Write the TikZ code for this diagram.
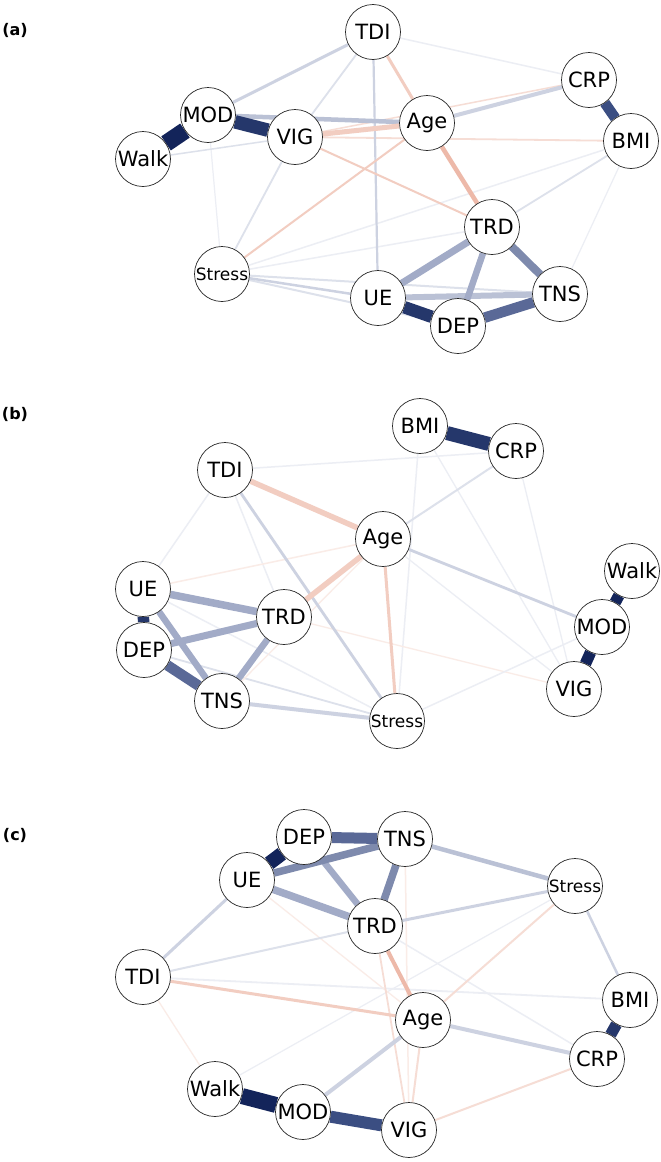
\documentclass[tikz,border=0pt]{standalone}
\usepackage{fontspec}
\setmainfont{DejaVu Sans}
\usetikzlibrary{backgrounds}
\definecolor{nvA}{HTML}{13245A}
\definecolor{nvB}{HTML}{25376B}
\definecolor{nvC}{HTML}{3B4E82}
\definecolor{nvD}{HTML}{5A6997}
\definecolor{nvE}{HTML}{7E8AAD}
\definecolor{nvF}{HTML}{A2ABC7}
\definecolor{nvG}{HTML}{BAC1D5}
\definecolor{nvH}{HTML}{CDD2E1}
\definecolor{nvI}{HTML}{DDE1EB}
\definecolor{nvJ}{HTML}{ECEEF4}
\definecolor{rdA}{HTML}{EDB9A9}
\definecolor{rdB}{HTML}{F2CDC1}
\definecolor{rdC}{HTML}{F6DDD5}
\definecolor{rdD}{HTML}{FAECE7}
\begin{document}
\begin{tikzpicture}[x=1pt,y=-1pt,
  nd/.style={circle,draw=black!85,line width=0.7pt,fill=white,minimum size=55pt,inner sep=0pt,font=\fontsize{21}{21}\selectfont},
  sm/.style={font=\fontsize{17}{17}\selectfont},
  panel/.style={font=\fontsize{16}{16}\selectfont\bfseries},
  edge/.style 2 args={draw=#1,line width=#2pt}]
\useasboundingbox (0,0) rectangle (661,1162);
% panel labels
\node[panel] (la) at (15,30) {(a)};
\node[panel] (lb) at (15,414) {(b)};
\node[panel] (lc) at (15,835) {(c)};
% ---------- panel (a) nodes
\node[nd] (aTDI) at (373,32) {TDI};
\node[nd] (aCRP) at (589,80) {CRP};
\node[nd] (aMOD) at (208,115) {MOD};
\node[nd] (aVIG) at (295,137) {VIG};
\node[nd] (aAge) at (427,123) {Age};
\node[nd] (aBMI) at (631,141) {BMI};
\node[nd] (aWalk) at (143,159) {Walk};
\node[nd] (aTRD) at (492,227) {TRD};
\node[nd,sm] (aStress) at (222,274) {Stress};
\node[nd] (aUE) at (378,298) {UE};
\node[nd] (aTNS) at (560,294) {TNS};
\node[nd] (aDEP) at (458,326) {DEP};
% ---------- panel (b) nodes
\node[nd] (bBMI) at (420,426) {BMI};
\node[nd] (bCRP) at (516,451) {CRP};
\node[nd] (bTDI) at (225,470) {TDI};
\node[nd] (bAge) at (383,539) {Age};
\node[nd] (bWalk) at (632,571) {Walk};
\node[nd] (bUE) at (143,589) {UE};
\node[nd] (bTRD) at (284,617) {TRD};
\node[nd] (bMOD) at (602,627) {MOD};
\node[nd] (bDEP) at (144,650) {DEP};
\node[nd] (bVIG) at (574,689) {VIG};
\node[nd] (bTNS) at (222,701) {TNS};
\node[nd,sm] (bStress) at (397,721) {Stress};
% ---------- panel (c) nodes
\node[nd] (cDEP) at (304,837) {DEP};
\node[nd] (cTNS) at (405,839) {TNS};
\node[nd] (cUE) at (247,880) {UE};
\node[nd,sm] (cStress) at (575,886) {Stress};
\node[nd] (cTRD) at (375,926) {TRD};
\node[nd] (cTDI) at (143,977) {TDI};
\node[nd] (cBMI) at (630,1000) {BMI};
\node[nd] (cAge) at (423,1020) {Age};
\node[nd] (cCRP) at (597,1059) {CRP};
\node[nd] (cWalk) at (215,1089) {Walk};
\node[nd] (cMOD) at (303,1112) {MOD};
\node[nd] (cVIG) at (409,1130) {VIG};
\begin{scope}[on background layer]
\fill[white] (0,0) rectangle (661,1162);
% ---------- panel (a) edges
\draw[edge={nvJ}{1.5}] (aTDI) -- (aCRP);
\draw[edge={nvJ}{1.2}] (aBMI) -- (aTNS);
\draw[edge={nvJ}{1.2}] (aMOD) -- (aStress);
\draw[edge={nvJ}{1.5}] (aBMI) -- (aStress);
\draw[edge={nvJ}{1.5}] (aTRD) -- (aStress);
\draw[edge={nvI}{2}] (aStress) -- (aTNS);
\draw[edge={rdC}{1.8}] (aVIG) -- (aBMI);
\draw[edge={rdC}{1.5}] (aVIG) -- (aCRP);
\draw[edge={nvI}{1.8}] (aTDI) -- (aVIG);
\draw[edge={nvI}{1.8}] (aVIG) -- (aStress);
\draw[edge={nvI}{1.5}] (aWalk) -- (aVIG);
\draw[edge={nvH}{2.2}] (aTDI) -- (aUE);
\draw[edge={nvI}{1.8}] (aBMI) -- (aTRD);
\draw[edge={rdB}{2}] (aVIG) -- (aTRD);
\draw[edge={rdB}{2}] (aAge) -- (aStress);
\draw[edge={nvI}{2}] (aStress) -- (aDEP);
\draw[edge={nvH}{2.5}] (aStress) -- (aUE);
\draw[edge={nvH}{3}] (aTDI) -- (aMOD);
\draw[edge={rdB}{3}] (aTDI) -- (aAge);
\draw[edge={nvH}{4}] (aAge) -- (aCRP);
\draw[edge={nvG}{4.5}] (aMOD) -- (aAge);
\draw[edge={rdB}{5}] (aVIG) -- (aAge);
\draw[edge={rdA}{4.5}] (aAge) -- (aTRD);
\draw[edge={nvG}{6}] (aUE) -- (aTNS);
\draw[edge={nvF}{6.5}] (aTRD) -- (aDEP);
\draw[edge={nvF}{7}] (aTRD) -- (aUE);
\draw[edge={nvE}{8}] (aTRD) -- (aTNS);
\draw[edge={nvC}{10.5}] (aCRP) -- (aBMI);
\draw[edge={nvD}{10.5}] (aDEP) -- (aTNS);
\draw[edge={nvB}{12.5}] (aUE) -- (aDEP);
\draw[edge={nvB}{13.5}] (aMOD) -- (aVIG);
\draw[edge={nvA}{17}] (aWalk) -- (aMOD);
% ---------- panel (b) edges
\draw[edge={nvJ}{1.5}] (bTDI) -- (bCRP);
\draw[edge={nvJ}{1.5}] (bBMI) -- (bStress);
\draw[edge={nvJ}{1.3}] (bBMI) -- (bVIG);
\draw[edge={nvJ}{1.3}] (bCRP) -- (bVIG);
\draw[edge={nvJ}{1.5}] (bTDI) -- (bUE);
\draw[edge={nvJ}{1.5}] (bTDI) -- (bTRD);
\draw[edge={rdD}{1.5}] (bAge) -- (bUE);
\draw[edge={nvJ}{1.5}] (bUE) -- (bStress);
\draw[edge={nvI}{1.8}] (bDEP) -- (bStress);
\draw[edge={rdD}{1.3}] (bTRD) -- (bVIG);
\draw[edge={nvJ}{1.3}] (bAge) -- (bVIG);
\draw[edge={nvJ}{1.5}] (bStress) -- (bMOD);
\draw[edge={rdD}{1.3}] (bAge) -- (bTNS);
\draw[edge={nvI}{2}] (bAge) -- (bCRP);
\draw[edge={nvH}{2.8}] (bAge) -- (bMOD);
\draw[edge={nvH}{2.8}] (bTDI) -- (bStress);
\draw[edge={rdB}{3}] (bAge) -- (bStress);
\draw[edge={nvH}{4}] (bTNS) -- (bStress);
\draw[edge={rdB}{5.5}] (bTDI) -- (bAge);
\draw[edge={rdB}{5.5}] (bAge) -- (bTRD);
\draw[edge={nvF}{6.5}] (bTRD) -- (bTNS);
\draw[edge={nvF}{6.5}] (bUE) -- (bTNS);
\draw[edge={nvF}{7}] (bDEP) -- (bTRD);
\draw[edge={nvF}{7.5}] (bUE) -- (bTRD);
\draw[edge={nvD}{10.5}] (bDEP) -- (bTNS);
\draw[edge={nvB}{11.5}] (bUE) -- (bDEP);
\draw[edge={nvA}{11.5}] (bMOD) -- (bVIG);
\draw[edge={nvA}{11.5}] (bWalk) -- (bMOD);
\draw[edge={nvB}{14}] (bBMI) -- (bCRP);
% ---------- panel (c) edges
\draw[edge={rdD}{1.3}] (cTDI) -- (cWalk);
\draw[edge={nvJ}{1.2}] (cWalk) -- (cStress);
\draw[edge={nvJ}{1.5}] (cTRD) -- (cCRP);
\draw[edge={nvJ}{1.8}] (cTDI) -- (cBMI);
\draw[edge={rdD}{1.3}] (cUE) -- (cAge);
\draw[edge={rdD}{1.5}] (cTNS) -- (cVIG);
\draw[edge={rdC}{1.8}] (cTRD) -- (cVIG);
\draw[edge={rdC}{2}] (cAge) -- (cVIG);
\draw[edge={nvI}{2}] (cTDI) -- (cTRD);
\draw[edge={rdC}{2}] (cStress) -- (cAge);
\draw[edge={rdC}{2}] (cCRP) -- (cVIG);
\draw[edge={nvH}{2.5}] (cStress) -- (cBMI);
\draw[edge={nvH}{3}] (cTRD) -- (cStress);
\draw[edge={nvH}{3}] (cUE) -- (cTDI);
\draw[edge={rdB}{3}] (cTDI) -- (cAge);
\draw[edge={nvH}{4}] (cAge) -- (cCRP);
\draw[edge={nvH}{4}] (cAge) -- (cMOD);
\draw[edge={rdA}{4}] (cTRD) -- (cAge);
\draw[edge={nvG}{4.5}] (cTNS) -- (cStress);
\draw[edge={nvF}{6.5}] (cDEP) -- (cTRD);
\draw[edge={nvF}{7.5}] (cUE) -- (cTRD);
\draw[edge={nvE}{7.5}] (cTNS) -- (cTRD);
\draw[edge={nvE}{7.5}] (cUE) -- (cTNS);
\draw[edge={nvD}{11}] (cDEP) -- (cTNS);
\draw[edge={nvC}{12}] (cMOD) -- (cVIG);
\draw[edge={nvB}{11.5}] (cBMI) -- (cCRP);
\draw[edge={nvA}{14}] (cUE) -- (cDEP);
\draw[edge={nvA}{16}] (cWalk) -- (cMOD);
\end{scope}
\end{tikzpicture}
\end{document}
